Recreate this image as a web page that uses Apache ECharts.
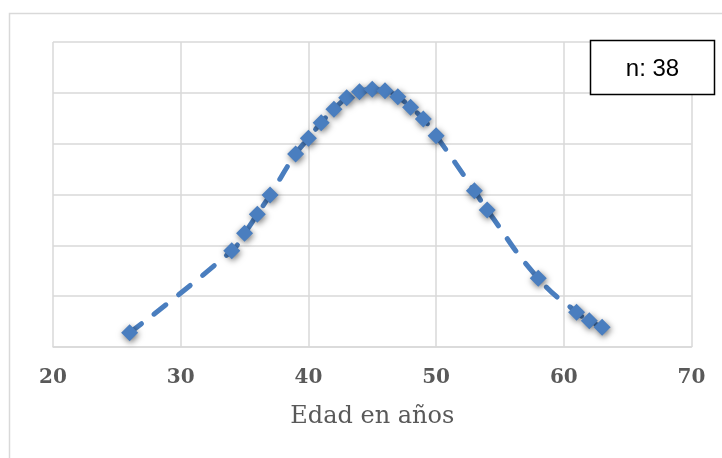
<!DOCTYPE html>
<html><head><meta charset="utf-8">
<script src="https://cdn.jsdelivr.net/npm/echarts@6/dist/echarts.min.js"></script>
<style>html,body{margin:0;padding:0;background:#fff}#c{width:722px;height:458px}</style>
</head><body><div id="c"></div>
<script>
const ages = [26,34,35,36,37,39,40,41,42,43,44,45,46,47,48,49,50,53,54,58,61,62,63];
const density = [0.00281,0.01894,0.02237,0.02611,0.0299,0.03797,0.04106,0.04413,0.04676,0.04904,0.05022,0.0507,0.05042,0.04924,0.04716,0.04485,0.04157,0.03075,0.02695,0.01351,0.00683,0.00517,0.00388];
const xTicks = [20,30,40,50,60,70];
const nLabel = 'n: 38';
const xName = 'Edad en años';

const chart = echarts.init(document.getElementById('c'));
chart.setOption({
  animation:false,
  grid:{left:53,right:30.5,top:42,bottom:111,containLabel:false},
  xAxis:{type:'value',min:xTicks[0],max:xTicks[xTicks.length-1],interval:10,
    name:xName,nameLocation:'middle',nameGap:58,
    nameTextStyle:{fontFamily:'DejaVu Serif',fontSize:24,color:'#595959'},
    axisLine:{show:true,lineStyle:{color:'#d9d9d9',width:1.5}},
    axisTick:{show:false},
    axisLabel:{margin:21,fontFamily:'DejaVu Serif',fontWeight:'bold',fontSize:20,color:'#595959'},
    splitLine:{show:true,lineStyle:{color:'#d9d9d9',width:1.5}}},
  yAxis:{type:'value',min:0,max:0.06,interval:0.01,
    axisLine:{show:false},axisTick:{show:false},axisLabel:{show:false},
    splitLine:{show:true,lineStyle:{color:'#d9d9d9',width:1.5}}},
  series:[{type:'line',data:ages.map((a,i)=>[a,density[i]]),
    smooth:true,symbol:'diamond',symbolSize:17,
    lineStyle:{color:'#4a7ebf',width:5,type:[15,16],cap:'round'},
    itemStyle:{color:'#4a7ebf',shadowBlur:6,shadowColor:'rgba(0,0,0,0.55)',shadowOffsetX:1,shadowOffsetY:2}}],
  graphic:[
    {type:'rect',shape:{x:9.5,y:13.5,width:740,height:470},style:{fill:'none',stroke:'#d9d9d9',lineWidth:1.5},z:-1},
    {type:'rect',shape:{x:590.5,y:40.5,width:124,height:54},style:{fill:'#fff',stroke:'#000',lineWidth:1.5},z:10},
    {type:'text',x:652.5,y:69,style:{text:nLabel,fontFamily:'Liberation Sans',fontSize:24,fill:'#000',align:'center',verticalAlign:'middle'},z:11}
  ]
});
</script></body></html>
